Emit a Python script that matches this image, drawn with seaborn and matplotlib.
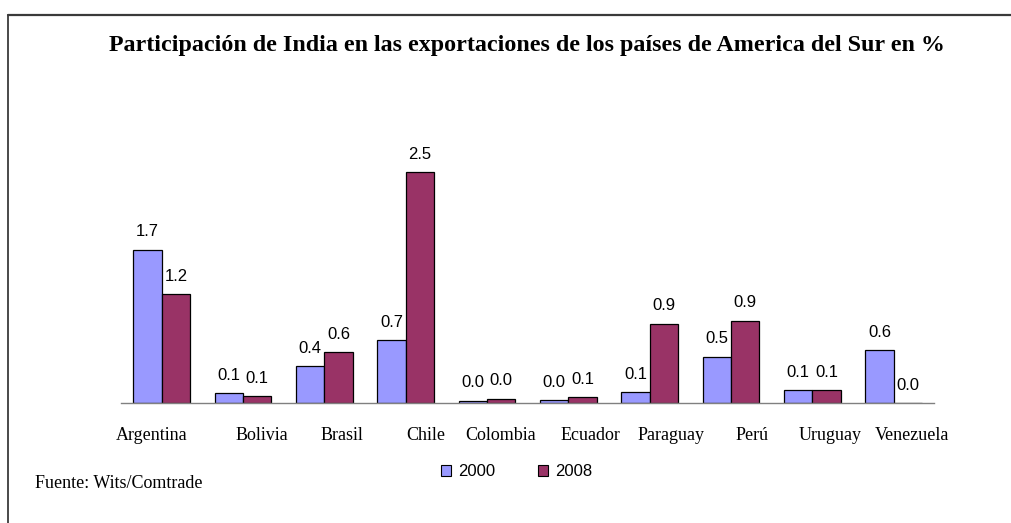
import numpy as np
import pandas as pd
import matplotlib
matplotlib.use("Agg")
import matplotlib.pyplot as plt
import seaborn as sns
from matplotlib.patches import Patch
from matplotlib.lines import Line2D
import matplotlib.transforms as mtransforms

# ---------------- data ----------------
countries = ["Argentina", "Bolivia", "Brasil", "Chile", "Colombia",
             "Ecuador", "Paraguay", "Perú", "Uruguay", "Venezuela"]
val_2000 = [1.66, 0.105, 0.40, 0.68, 0.025, 0.03, 0.12, 0.50, 0.14, 0.57]
val_2008 = [1.18, 0.075, 0.55, 2.50, 0.045, 0.06, 0.86, 0.89, 0.14, 0.0]
years = ["2000", "2008"]
colors = ["#9999FF", "#993366"]
title = "Participación de India en las exportaciones de los países de America del Sur en %"
source = "Fuente: Wits/Comtrade"

df = pd.DataFrame({
    "country": countries * 2,
    "value": val_2000 + val_2008,
    "year": [years[0]] * len(countries) + [years[1]] * len(countries),
})

# ---------------- figure ----------------
sns.set_style("white")
plt.rcParams["font.family"] = ["Liberation Serif", "DejaVu Serif"]
plt.rcParams["text.color"] = "black"

W, H = 1012, 523
fig = plt.figure(figsize=(W / 100, H / 100), dpi=100)
fig.patch.set_facecolor("white")

ax = fig.add_axes([121 / W, (H - 403) / H, 813.3 / W, 276.9 / H])
sns.barplot(data=df, x="country", y="value", hue="year", order=countries,
            hue_order=years, palette=colors, saturation=1, width=0.7,
            edgecolor="black", linewidth=0.9, legend=False, ax=ax)

ax.set_xlim(-0.5, len(countries) - 0.5)
ax.set_ylim(0, 3.0)
ax.set_xlabel("")
ax.set_ylabel("")
ax.set_yticks([])
for s in ["top", "right", "left"]:
    ax.spines[s].set_visible(False)
ax.spines["bottom"].set_color("#808080")
ax.spines["bottom"].set_linewidth(1.0)

ax.set_xticks(np.arange(-0.5, len(countries), 1.0), minor=True)
ax.tick_params(axis="x", which="minor", length=5, width=1.0,
               color="#808080", direction="out")
ax.tick_params(axis="x", which="major", length=0, pad=17.5)
for lab in ax.get_xticklabels():
    lab.set_fontfamily("Liberation Serif")
    lab.set_fontsize(13)
    lab.set_color("black")

# data labels
for cont in ax.containers:
    ax.bar_label(cont, fmt="%.1f", padding=7.5,
                 fontfamily="Liberation Sans", fontsize=12, color="black")

# shift category labels like the original rendering
shift_px = [-10, 19, 18, 20, 14, 22, 21, 21, 18, 18]
for lab, dx in zip(ax.get_xticklabels(), shift_px):
    lab.set_transform(lab.get_transform() +
                      mtransforms.ScaledTranslation(dx / 100, 0, fig.dpi_scale_trans))

# title fitted to original width
t = fig.text(526.5 / W, 1 - 46 / H, title, ha="center", va="center",
             fontfamily="Liberation Serif", fontweight="bold", fontsize=15,
             color="black")
fig.canvas.draw()
w = t.get_window_extent().width
t.set_fontsize(15 * 837 / w)

# source
fig.text(35 / W, 1 - 483 / H, source, ha="left", va="center",
         fontfamily="Liberation Serif", fontsize=13, color="black")

# legend
handles = [Patch(facecolor=c, edgecolor="black", linewidth=0.8, label=y)
           for c, y in zip(colors, years)]
fig.legend(handles=handles, loc="center", bbox_to_anchor=(516.5 / W, 1 - 472 / H),
           ncol=2, frameon=False, handlelength=0.6, handleheight=0.6,
           handletextpad=0.4, columnspacing=2.6,
           prop={"family": "Liberation Sans", "size": 12})

# outer frame (top and left edges)
fig.add_artist(Line2D([8 / W, 1], [1 - 14.5 / H, 1 - 14.5 / H],
                      transform=fig.transFigure, color="#3a3a3a", linewidth=1.6))
fig.add_artist(Line2D([8 / W, 8 / W], [0, 1 - 14.5 / H],
                      transform=fig.transFigure, color="#3a3a3a", linewidth=1.3))

fig.savefig("out.png", dpi=100, facecolor="white")
